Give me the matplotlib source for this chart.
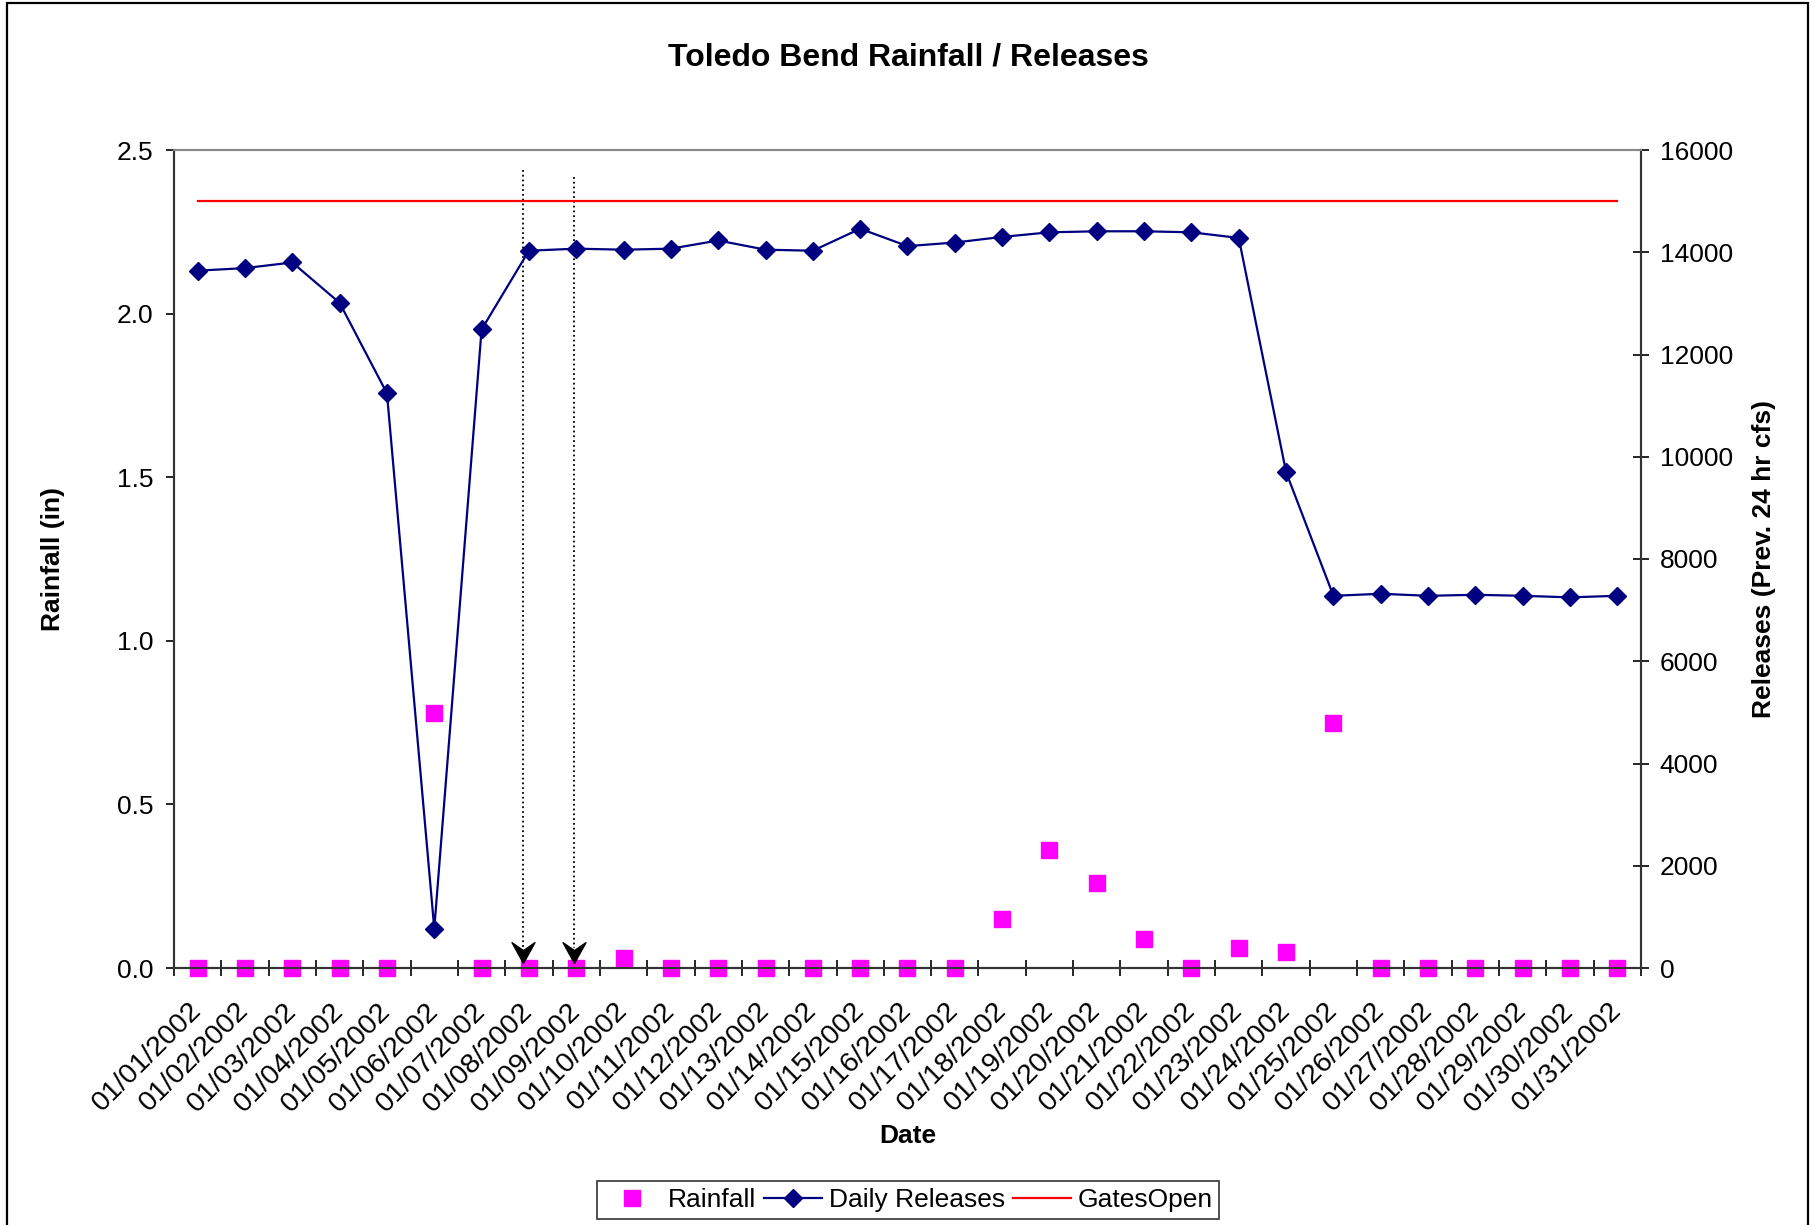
import matplotlib
matplotlib.use("Agg")
import matplotlib.pyplot as plt
from matplotlib.path import Path
from matplotlib.patches import Rectangle
from matplotlib.lines import Line2D
import numpy as np

plt.rcParams['font.family'] = ['Liberation Sans', 'DejaVu Sans']

# data
dates = ['01/%02d/2002' % d for d in range(1, 32)]
rainfall = [0, 0, 0, 0, 0, 0.78, 0, 0, 0, 0.03,
            0, 0, 0, 0, 0, 0, 0, 0.15, 0.36, 0.26,
            0.09, 0, 0.06, 0.05, 0.75, 0, 0, 0, 0, 0, 0]
releases = [13640, 13690, 13800, 13010, 11240, 770, 12490, 14030, 14070, 14050,
            14070, 14230, 14050, 14030, 14460, 14120, 14190, 14300, 14390, 14410,
            14410, 14390, 14280, 9700, 7280, 7320, 7280, 7300, 7280, 7250, 7280]
gates_open = [15000] * 31

# dotted arrow markers (category position, top value, tip value on releases axis)
arrow_x = [6.87, 7.96]
arrow_top = [15600, 15480]
arrow_tip = [90, 90]

x = np.arange(len(dates))

fig = plt.figure(figsize=(18.15, 12.25), dpi=100)
ax = fig.add_axes([174 / 1815, 1 - 968 / 1225, (1641 - 174) / 1815, (968 - 150) / 1225])
ax2 = ax.twinx()

# rainfall on left axis
ax.plot(x, rainfall, linestyle='none', marker='s', markersize=11,
        color='#ff00ff', clip_on=False, zorder=5)
ax.set_ylim(0, 2.5)
ax.set_yticks(np.arange(0, 2.51, 0.5))
ax.set_yticklabels(['%.1f' % v for v in np.arange(0, 2.51, 0.5)])
ax.set_xlim(-0.5, len(dates) - 0.5)

# category axis: ticks at boundaries, labels at centres
ax.set_xticks(np.arange(-0.5, len(dates), 1.0))
ax.set_xticklabels([])
ax.set_xticks(x, minor=True)
ax.set_xticklabels(dates, minor=True, rotation=45, ha='right', va='center',
                   rotation_mode='anchor', fontsize=20.5)
ax.tick_params(axis='x', which='major', direction='inout', length=12, width=1.2)
ax.tick_params(axis='x', which='minor', length=0, pad=28)
ax.tick_params(axis='y', direction='out', length=6, width=1.2, labelsize=19, pad=9)

# releases on right axis
ax2.plot(x, releases, color='#000080', linewidth=1.6, marker='D', markersize=9.5,
         zorder=4)
ax2.plot(x, gates_open, color='#ff0000', linewidth=1.6, zorder=3)
ax2.set_ylim(0, 16000)
ax2.set_yticks(np.arange(0, 16001, 2000))
ax2.tick_params(axis='y', direction='inout', length=11, width=1.2, labelsize=19, pad=8)

# dotted arrows
head = Path([(0, 0), (-0.55, 1), (0, 0.62), (0.55, 1), (0, 0)],
            [Path.MOVETO, Path.LINETO, Path.LINETO, Path.LINETO, Path.CLOSEPOLY])
for xa, yt, yb in zip(arrow_x, arrow_top, arrow_tip):
    ax2.plot([xa, xa], [yt, yb + 300], color='black', linestyle=':', linewidth=1.3)
    ax2.plot([xa], [yb], marker=head, markersize=30, color='black',
             linestyle='none', clip_on=False, zorder=6)

# spines
for a in (ax, ax2):
    for s in ('left', 'right', 'bottom'):
        a.spines[s].set_color('#333333')
        a.spines[s].set_linewidth(1.5)
    a.spines['top'].set_color('#888888')
    a.spines['top'].set_linewidth(1.5)

ax.set_ylabel('Rainfall (in)', fontsize=19, fontweight='bold', labelpad=37)
ax2.set_ylabel('Releases (Prev. 24 hr cfs)', fontsize=19, fontweight='bold', labelpad=14)
fig.text(908 / 1815, 1 - 1136 / 1225, 'Date', fontsize=19, fontweight='bold',
         ha='center', va='center')
fig.text(908 / 1815, 1 - 57 / 1225, 'Toledo Bend Rainfall / Releases',
         fontsize=23, fontweight='bold', ha='center', va='center')

handles = [
    Line2D([], [], linestyle='none', marker='s', markersize=11, color='#ff00ff'),
    Line2D([], [], color='#000080', linewidth=1.6, marker='D', markersize=9.5),
    Line2D([], [], color='#ff0000', linewidth=1.6),
]
leg = fig.legend(handles, ['Rainfall', 'Daily Releases', 'GatesOpen'], ncol=3,
                 loc='center', bbox_to_anchor=(908 / 1815, 1 - 1200 / 1225),
                 fontsize=19, frameon=True, fancybox=False, edgecolor='black',
                 borderpad=0.25, handlelength=2.2, handletextpad=0.25,
                 columnspacing=0.3)
leg.get_frame().set_linewidth(1.2)

# outer chart frame
fig.patches.append(Rectangle((7 / 1815, -0.01), (1808 - 7) / 1815, 1.01 - 3 / 1225,
                             transform=fig.transFigure, fill=False,
                             edgecolor='black', linewidth=1.6))

fig.savefig('out.png', dpi=100)
